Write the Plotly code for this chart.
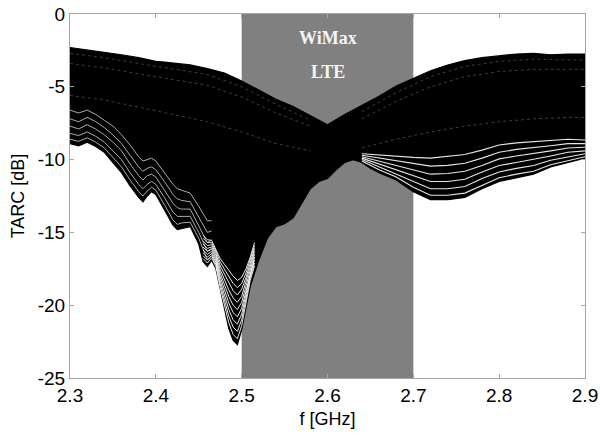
import plotly.graph_objects as go

# ---------------- data ----------------
# upper edge of the bundle of curves
freq_upper = [2.30, 2.32, 2.34, 2.36, 2.38, 2.40, 2.41, 2.42, 2.44, 2.46, 2.48, 2.50,
              2.52, 2.54, 2.56, 2.58, 2.60, 2.62, 2.64, 2.66, 2.68, 2.70, 2.72, 2.74,
              2.76, 2.78, 2.80, 2.82, 2.84, 2.86, 2.88, 2.90]
tarc_upper = [-2.3, -2.45, -2.65, -2.8, -3.0, -3.25, -3.3, -3.35, -3.5, -3.75, -4.05, -4.6,
              -5.2, -5.85, -6.35, -7.0, -7.6, -6.9, -6.3, -5.65, -4.95, -4.4, -3.9, -3.5,
              -3.2, -3.0, -2.85, -2.75, -2.7, -2.8, -2.75, -2.75]

# outermost (lowest) curve
freq_low = [2.300, 2.310, 2.320, 2.330, 2.340, 2.350, 2.360, 2.370, 2.380, 2.385, 2.390,
            2.395, 2.400, 2.410, 2.420, 2.425, 2.430, 2.440, 2.450, 2.455, 2.460, 2.465,
            2.470, 2.475, 2.480, 2.485, 2.490, 2.495, 2.500, 2.505, 2.510, 2.520, 2.530,
            2.540, 2.550, 2.560, 2.570, 2.580, 2.590, 2.600, 2.610, 2.620, 2.630, 2.640,
            2.650, 2.660, 2.680, 2.700, 2.720, 2.740, 2.760, 2.780, 2.800, 2.820, 2.840,
            2.860, 2.880, 2.900]
tarc_low = [-8.9, -9.05, -8.8, -9.1, -9.5, -10.2, -10.9, -11.8, -12.6, -12.9, -12.5,
            -12.2, -12.4, -13.4, -14.5, -14.8, -14.7, -14.6, -15.8, -17.0, -17.35, -16.9,
            -17.5, -19.0, -20.3, -21.6, -22.4, -22.7, -21.7, -20.2, -18.7, -16.9, -15.4,
            -14.6, -14.4, -14.0, -13.0, -12.0, -11.5, -11.3, -10.7, -10.2, -10.0, -10.2,
            -10.6, -10.9, -11.4, -12.2, -12.75, -12.75, -12.6, -12.0, -11.5, -11.25, -11.0,
            -10.5, -10.2, -9.9]

# white gaps between the separate curves in the deep dip near 2.49 GHz
freq_dip = [2.455, 2.46, 2.465, 2.47, 2.475, 2.48, 2.485, 2.49, 2.495, 2.50, 2.505, 2.51, 2.515]
gap_dip_1 = [-16.8, -17.1, -16.75, -17.35, -18.8, -20.0, -21.2, -22.0, -22.3, -21.4, -19.9, -18.3, -17.3]
gap_dip_2 = [-16.6, -16.9, -16.6, -17.2, -18.55, -19.65, -20.75, -21.5, -21.8, -21.0, -19.6, -18.1, -17.1]
gap_dip_3 = [-16.4, -16.7, -16.45, -17.05, -18.3, -19.3, -20.3, -21.0, -21.3, -20.6, -19.3, -17.9, -16.9]
gap_dip_4 = [-16.2, -16.5, -16.3, -16.9, -18.05, -18.95, -19.85, -20.5, -20.8, -20.2, -19.0, -17.7, -16.7]
gap_dip_5 = [-16.0, -16.3, -16.15, -16.75, -17.8, -18.6, -19.4, -20.0, -20.3, -19.8, -18.7, -17.5, -16.5]
gap_dip_6 = [-15.8, -16.1, -16.0, -16.6, -17.55, -18.25, -18.95, -19.5, -19.8, -19.4, -18.4, -17.3, -16.3]
gap_dip_7 = [-15.6, -15.9, -15.85, -16.45, -17.3, -17.9, -18.5, -19.0, -19.3, -18.9, -18.1, -17.1, -16.1]
gap_dip_8 = [-15.4, -15.7, -15.7, -16.3, -17.05, -17.55, -18.05, -18.5, -18.8, -18.5, -17.8, -16.9, -15.9]
gap_dip_9 = [-15.2, -15.5, -15.55, -16.15, -16.8, -17.2, -17.6, -18.0, -18.3, -18.1, -17.5, -16.7, -15.7]

# white gaps between curves along the lower left edge
freq_left = [2.30, 2.31, 2.32, 2.33, 2.34, 2.35, 2.36, 2.37, 2.38, 2.385, 2.39, 2.395,
             2.40, 2.41, 2.42, 2.425, 2.43, 2.44, 2.45, 2.46, 2.465]
gap_left_1 = [-8.6, -8.75, -8.5, -8.8, -9.2, -9.85, -10.5, -11.4, -12.2, -12.5, -12.15, -11.9,
              -12.1, -13.1, -14.15, -14.45, -14.35, -14.3, -15.4, -16.9, -16.6]
gap_left_2 = [-8.2, -8.35, -8.1, -8.4, -8.8, -9.4, -10.0, -10.9, -11.7, -12.0, -11.7, -11.5,
              -11.7, -12.6, -13.6, -13.9, -13.9, -13.9, -15.0, -16.3, -16.1]
gap_left_3 = [-7.7, -7.9, -7.6, -7.9, -8.3, -8.8, -9.4, -10.3, -11.1, -11.4, -11.1, -11.0,
              -11.2, -12.1, -13.0, -13.3, -13.4, -13.4, -14.5, -15.7, -15.5]
gap_left_4 = [-7.2, -7.4, -7.1, -7.4, -7.8, -8.3, -8.9, -9.7, -10.5, -10.8, -10.6, -10.5,
              -10.7, -11.5, -12.4, -12.7, -12.8, -12.9, -13.9, -15.0, -14.9]
gap_left_5 = [-6.6, -6.8, -6.6, -6.9, -7.3, -7.7, -8.3, -9.0, -9.8, -10.1, -10.0, -9.9,
              -10.1, -10.9, -11.7, -12.0, -12.1, -12.3, -13.2, -14.2, -14.2]

# white gaps between curves below the bundle above 2.64 GHz
freq_right = [2.64, 2.66, 2.68, 2.70, 2.72, 2.74, 2.76, 2.78, 2.80, 2.82, 2.84, 2.86, 2.88, 2.90]
gap_right_1 = [-10.1, -10.7, -11.2, -11.9, -12.45, -12.45, -12.3, -11.75, -11.25, -11.0, -10.8, -10.35, -10.05, -9.8]
gap_right_2 = [-10.0, -10.5, -10.95, -11.5, -12.0, -12.0, -11.85, -11.3, -10.85, -10.6, -10.4, -10.05, -9.8, -9.6]
gap_right_3 = [-9.9, -10.3, -10.7, -11.1, -11.5, -11.5, -11.35, -10.85, -10.4, -10.2, -10.0, -9.75, -9.5, -9.4]
gap_right_4 = [-9.8, -10.1, -10.4, -10.7, -11.0, -10.95, -10.8, -10.4, -9.95, -9.75, -9.6, -9.4, -9.2, -9.15]
gap_right_5 = [-9.7, -9.9, -10.1, -10.3, -10.45, -10.4, -10.25, -9.9, -9.5, -9.3, -9.2, -9.05, -8.9, -8.9]
gap_right_6 = [-9.6, -9.7, -9.8, -9.85, -9.9, -9.8, -9.65, -9.35, -9.0, -8.85, -8.75, -8.65, -8.6, -8.65]

# faint broken streaks inside the bundle
freq_top_left = [2.30, 2.34, 2.38, 2.42, 2.46, 2.50, 2.54, 2.58]
streak_tl_1 = [-2.7, -3.0, -3.4, -3.75, -4.15, -5.0, -6.2, -7.3]
streak_tl_2 = [-3.4, -3.7, -4.1, -4.5, -4.9, -5.7, -6.8, -7.7]
streak_tl_3 = [-5.6, -5.9, -6.4, -6.9, -7.4, -8.1, -8.9, -9.4]
freq_top_right = [2.64, 2.68, 2.72, 2.76, 2.80, 2.84, 2.88, 2.90]
streak_tr_1 = [-6.7, -5.4, -4.3, -3.6, -3.25, -3.1, -3.15, -3.15]
streak_tr_2 = [-7.2, -6.0, -5.0, -4.3, -3.95, -3.8, -3.8, -3.8]
streak_tr_3 = [-9.2, -8.6, -8.1, -7.7, -7.4, -7.2, -7.1, -7.1]

band_start, band_end = 2.5, 2.7
band_labels = ["WiMax", "LTE"]

x_tick_vals = [2.3, 2.4, 2.5, 2.6, 2.7, 2.8, 2.9]
x_tick_text = ["2.3", "2.4", "2.5", "2.6", "2.7", "2.8", "2.9"]
y_tick_vals = [0, -5, -10, -15, -20, -25]
y_tick_text = ["0", "-5", "-10", "-15", "-20", "-25"]

# ---------------- figure ----------------
fig = go.Figure()

# whole bundle of curves, solid black between upper and lowest curve
fig.add_trace(go.Scatter(
    x=freq_upper + freq_low[::-1],
    y=tarc_upper + tarc_low[::-1],
    fill="toself", fillcolor="black", mode="lines",
    line=dict(color="black", width=1.2), hoverinfo="skip", showlegend=False))

gap_sets = [
    (freq_dip, [gap_dip_1, gap_dip_2, gap_dip_3, gap_dip_4, gap_dip_5,
                gap_dip_6, gap_dip_7, gap_dip_8, gap_dip_9], 1.0, 0.9),
    (freq_left, [gap_left_1, gap_left_2, gap_left_3, gap_left_4, gap_left_5], 0.9, 0.75),
    (freq_right, [gap_right_1, gap_right_2, gap_right_3, gap_right_4,
                  gap_right_5, gap_right_6], 1.1, 0.9),
]
for fx, curves, w, op in gap_sets:
    for fy in curves:
        fig.add_trace(go.Scatter(x=fx, y=fy, mode="lines", opacity=op,
                                 line=dict(color="white", width=w),
                                 hoverinfo="skip", showlegend=False))

for fx, curves in [(freq_top_left, [streak_tl_1, streak_tl_2, streak_tl_3]),
                   (freq_top_right, [streak_tr_1, streak_tr_2, streak_tr_3])]:
    for fy in curves:
        fig.add_trace(go.Scatter(x=fx, y=fy, mode="lines", opacity=0.3,
                                 line=dict(color="white", width=0.8, dash="dot"),
                                 hoverinfo="skip", showlegend=False))

fig.add_shape(type="rect", xref="x", yref="y", x0=band_start, x1=band_end, y0=-25, y1=0,
              fillcolor="#808080", line=dict(width=0), layer="below")

band_mid = (band_start + band_end) / 2
for lbl, yv in zip(band_labels, [-1.65, -3.95]):
    fig.add_annotation(x=band_mid, y=yv, xref="x", yref="y", text="<b>%s</b>" % lbl,
                       showarrow=False,
                       font=dict(family="Liberation Serif", size=18, color="#f4f4f4"))

axis_common = dict(showline=True, mirror="ticks", linecolor="#a6a6a6", linewidth=1,
                   ticks="inside", ticklen=4, tickcolor="#a6a6a6", showgrid=False,
                   zeroline=False, automargin=False,
                   tickfont=dict(family="Liberation Sans", size=19, color="black"))

fig.update_xaxes(range=[2.3, 2.9], tickvals=x_tick_vals, ticktext=x_tick_text,
                 title=dict(text="f [GHz]", standoff=7,
                            font=dict(family="Liberation Sans", size=18, color="black")),
                 **axis_common)
fig.update_yaxes(range=[-25, 0], tickvals=y_tick_vals, ticktext=y_tick_text,
                 title=dict(text="TARC [dB]", standoff=8,
                            font=dict(family="Liberation Sans", size=18, color="black")),
                 **axis_common)

fig.update_layout(width=600, height=436, margin=dict(l=70, r=15, t=14, b=58),
                  plot_bgcolor="white", paper_bgcolor="white", showlegend=False,
                  template="none")

fig.write_html("out.html", config={"displayModeBar": False},
               post_script="document.body.style.margin='0';document.body.style.padding='0';")
